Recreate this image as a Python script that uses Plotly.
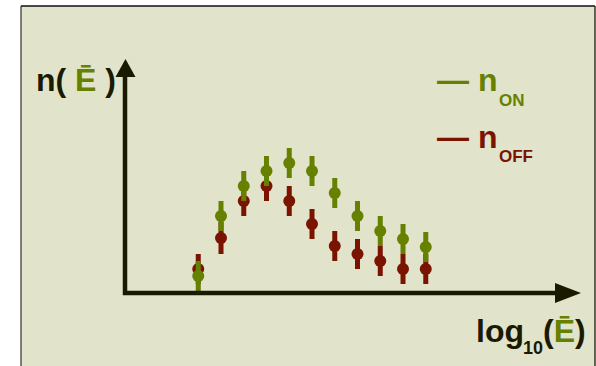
import plotly.graph_objects as go

# Energy bins (log10 of the reconstructed energy) and event counts per bin
log_e = [1.0, 1.1, 1.2, 1.3, 1.4, 1.5, 1.6, 1.7, 1.8, 1.9, 2.0]
n_on = [17, 77, 107, 122, 130, 122, 100, 77, 62, 54, 46]
n_on_err = [15, 15, 15, 15, 15, 15, 15, 15, 15, 15, 15]
n_off = [24, 55, 92, 107, 92, 69, 47, 39, 32, 24, 24]
n_off_err = [15, 16, 15, 15, 15, 15, 15, 15, 15, 15, 15]

W, H = 596, 366
BG = "#e1e3cb"
GREEN = "#668000"
RED = "#7a1400"
INK = "#1a1a00"
FONT = "Liberation Sans, Arial, sans-serif"


def px(x, y):
    """Pixel position -> paper coordinates."""
    return x / W, 1 - y / H


fig = go.Figure()

for vals, errs, col in [(n_off, n_off_err, RED), (n_on, n_on_err, GREEN)]:
    fig.add_trace(go.Scatter(
        x=log_e, y=vals, mode="markers",
        marker=dict(size=12, color=col, line=dict(width=0)),
        error_y=dict(type="data", array=errs, visible=True,
                     color=col, thickness=5, width=0),
        showlegend=False, hoverinfo="skip",
    ))

shapes = []
# panel background and frame
x0, y0 = px(21, 366)
x1, y1 = px(595, 6)
shapes.append(dict(type="rect", xref="paper", yref="paper", x0=x0, y0=y0 - 0.01,
                   x1=x1, y1=y1, fillcolor=BG, line=dict(width=0), layer="below"))
shapes.append(dict(type="line", xref="paper", yref="paper", x0=x0, x1=x0, y0=y0 - 0.01,
                   y1=y1, line=dict(color="#555555", width=1.5), layer="below"))
shapes.append(dict(type="line", xref="paper", yref="paper", x0=x0, x1=x1, y0=y1, y1=y1,
                   line=dict(color="#111111", width=1.5), layer="below"))
shapes.append(dict(type="line", xref="paper", yref="paper", x0=x1, x1=x1, y0=y0 - 0.01,
                   y1=y1, line=dict(color="#333322", width=1.5), layer="below"))

# axes with arrowheads
ax, ay = px(125, 295)
bx, by = px(125, 74)
shapes.append(dict(type="line", xref="paper", yref="paper", x0=ax, y0=ay, x1=bx, y1=by,
                   line=dict(color=INK, width=4.5)))
cx, cy = px(123, 293)
dx, dy = px(558, 293)
shapes.append(dict(type="line", xref="paper", yref="paper", x0=cx, y0=cy, x1=dx, y1=dy,
                   line=dict(color=INK, width=4.5)))


def tri(p1, p2, p3):
    pts = [px(*p) for p in (p1, p2, p3)]
    return "M {} {} L {} {} L {} {} Z".format(pts[0][0], pts[0][1], pts[1][0], pts[1][1],
                                               pts[2][0], pts[2][1])


shapes.append(dict(type="path", xref="paper", yref="paper",
                   path=tri((125.5, 59), (115.5, 77), (135.5, 77)),
                   fillcolor=INK, line=dict(width=0)))
shapes.append(dict(type="path", xref="paper", yref="paper",
                   path=tri((581, 293), (555, 283), (555, 303)),
                   fillcolor=INK, line=dict(width=0)))

annotations = []


def label(text, x, y, size, color=INK):
    ux, uy = px(x, y)
    annotations.append(dict(text=text, x=ux, y=uy, xref="paper", yref="paper",
                            xanchor="left", yanchor="middle", showarrow=False,
                            font=dict(family=FONT, size=size, color=color, weight="bold")))


label('n( <span style="color:%s">Ē</span> )' % GREEN, 34, 80, 32)
label("— n", 434.5, 80, 32, GREEN)
label("ON", 496.5, 100, 17, GREEN)
label("— n", 434.5, 137.5, 32, RED)
label("OFF", 496.5, 157, 17, RED)
label("log", 474, 331, 32)
label("10", 521, 348, 18)
label('(<span style="color:%s">Ē</span>)' % GREEN, 541, 331, 32)

fig.update_layout(
    width=W, height=H,
    margin=dict(l=0, r=0, t=0, b=0),
    paper_bgcolor="white", plot_bgcolor="rgba(0,0,0,0)",
    xaxis=dict(domain=[125 / W, 580 / W], range=[0.678, 2.678], visible=False),
    yaxis=dict(domain=[73 / H, 306 / H], range=[0, 233], visible=False),
    shapes=shapes, annotations=annotations,
)

fig.write_html("out.html")
